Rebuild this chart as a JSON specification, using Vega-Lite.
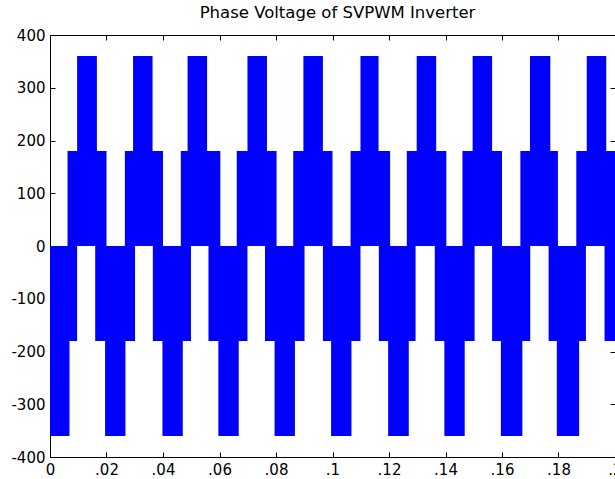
{
  "$schema": "https://vega.github.io/schema/vega-lite/v6.json",
  "width": 565,
  "height": 422,
  "autosize": {"type": "none"},
  "padding": {"left": 50, "top": 35, "right": 0, "bottom": 22},
  "background": "white",
  "config": {
    "view": {"stroke": null},
    "axis": {
      "grid": false,
      "domainColor": "black",
      "domainWidth": 1,
      "tickColor": "black",
      "tickSize": -5,
      "labelColor": "black",
      "labelFont": "DejaVu Sans",
      "labelFontSize": 15,
      "title": null
    }
  },
  "title": {
    "text": "Phase Voltage of SVPWM Inverter",
    "anchor": "middle",
    "frame": "group",
    "offset": 14,
    "dy": 20,
    "dx": 5,
    "baseline": "alphabetic",
    "font": "DejaVu Sans",
    "fontSize": 16.5,
    "fontWeight": "normal",
    "color": "black"
  },
  "data": {
    "values": [
      {"t": 0, "v": 0, "s": "upper"},
      {"t": 0.0062, "v": 180, "s": "upper"},
      {"t": 0.0096, "v": 360, "s": "upper"},
      {"t": 0.0166, "v": 180, "s": "upper"},
      {"t": 0.0200, "v": 0, "s": "upper"},
      {"t": 0.0265, "v": 180, "s": "upper"},
      {"t": 0.0294, "v": 360, "s": "upper"},
      {"t": 0.0363, "v": 180, "s": "upper"},
      {"t": 0.0400, "v": 0, "s": "upper"},
      {"t": 0.0463, "v": 180, "s": "upper"},
      {"t": 0.0487, "v": 360, "s": "upper"},
      {"t": 0.0556, "v": 180, "s": "upper"},
      {"t": 0.0603, "v": 0, "s": "upper"},
      {"t": 0.0661, "v": 180, "s": "upper"},
      {"t": 0.0699, "v": 360, "s": "upper"},
      {"t": 0.0768, "v": 180, "s": "upper"},
      {"t": 0.0802, "v": 0, "s": "upper"},
      {"t": 0.0861, "v": 180, "s": "upper"},
      {"t": 0.0897, "v": 360, "s": "upper"},
      {"t": 0.0966, "v": 180, "s": "upper"},
      {"t": 0.1000, "v": 0, "s": "upper"},
      {"t": 0.1064, "v": 180, "s": "upper"},
      {"t": 0.1099, "v": 360, "s": "upper"},
      {"t": 0.1163, "v": 180, "s": "upper"},
      {"t": 0.1204, "v": 0, "s": "upper"},
      {"t": 0.1263, "v": 180, "s": "upper"},
      {"t": 0.1298, "v": 360, "s": "upper"},
      {"t": 0.1367, "v": 180, "s": "upper"},
      {"t": 0.1403, "v": 0, "s": "upper"},
      {"t": 0.1460, "v": 180, "s": "upper"},
      {"t": 0.1496, "v": 360, "s": "upper"},
      {"t": 0.1565, "v": 180, "s": "upper"},
      {"t": 0.1600, "v": 0, "s": "upper"},
      {"t": 0.1665, "v": 180, "s": "upper"},
      {"t": 0.1699, "v": 360, "s": "upper"},
      {"t": 0.1771, "v": 180, "s": "upper"},
      {"t": 0.1798, "v": 0, "s": "upper"},
      {"t": 0.1863, "v": 180, "s": "upper"},
      {"t": 0.1900, "v": 360, "s": "upper"},
      {"t": 0.1969, "v": 180, "s": "upper"},
      {"t": 0.2000, "v": 180, "s": "upper"},
      {"t": 0, "v": -360, "s": "lower"},
      {"t": 0.0069, "v": -180, "s": "lower"},
      {"t": 0.0096, "v": 0, "s": "lower"},
      {"t": 0.0160, "v": -180, "s": "lower"},
      {"t": 0.0195, "v": -360, "s": "lower"},
      {"t": 0.0267, "v": -180, "s": "lower"},
      {"t": 0.0301, "v": 0, "s": "lower"},
      {"t": 0.0364, "v": -180, "s": "lower"},
      {"t": 0.0398, "v": -360, "s": "lower"},
      {"t": 0.0470, "v": -180, "s": "lower"},
      {"t": 0.0499, "v": 0, "s": "lower"},
      {"t": 0.0561, "v": -180, "s": "lower"},
      {"t": 0.0596, "v": -360, "s": "lower"},
      {"t": 0.0668, "v": -180, "s": "lower"},
      {"t": 0.0699, "v": 0, "s": "lower"},
      {"t": 0.0761, "v": -180, "s": "lower"},
      {"t": 0.0795, "v": -360, "s": "lower"},
      {"t": 0.0867, "v": -180, "s": "lower"},
      {"t": 0.0901, "v": 0, "s": "lower"},
      {"t": 0.0966, "v": -180, "s": "lower"},
      {"t": 0.0995, "v": -360, "s": "lower"},
      {"t": 0.1067, "v": -180, "s": "lower"},
      {"t": 0.1099, "v": 0, "s": "lower"},
      {"t": 0.1164, "v": -180, "s": "lower"},
      {"t": 0.1197, "v": -360, "s": "lower"},
      {"t": 0.1270, "v": -180, "s": "lower"},
      {"t": 0.1294, "v": 0, "s": "lower"},
      {"t": 0.1362, "v": -180, "s": "lower"},
      {"t": 0.1396, "v": -360, "s": "lower"},
      {"t": 0.1468, "v": -180, "s": "lower"},
      {"t": 0.1503, "v": 0, "s": "lower"},
      {"t": 0.1565, "v": -180, "s": "lower"},
      {"t": 0.1596, "v": -360, "s": "lower"},
      {"t": 0.1672, "v": -180, "s": "lower"},
      {"t": 0.1700, "v": 0, "s": "lower"},
      {"t": 0.1765, "v": -180, "s": "lower"},
      {"t": 0.1794, "v": -360, "s": "lower"},
      {"t": 0.1873, "v": -180, "s": "lower"},
      {"t": 0.1897, "v": 0, "s": "lower"},
      {"t": 0.1963, "v": -180, "s": "lower"},
      {"t": 0.2000, "v": -180, "s": "lower"}
    ]
  },
  "layer": [
    {
      "mark": {"type": "area", "interpolate": "step-after", "color": "#0000ff", "clip": true},
      "encoding": {
        "x": {
          "field": "t", "type": "quantitative",
          "scale": {"domain": [0, 0.2], "nice": false, "zero": false},
          "axis": {
            "orient": "bottom",
            "values": [0, 0.02, 0.04, 0.06, 0.08, 0.1, 0.12, 0.14, 0.16, 0.18, 0.2],
            "labelExpr": "datum.value == 0 ? '0' : slice(format(datum.value, '.2~f'), 1)",
            "labelPadding": 10,
            "labelFlush": false,
            "labelOverlap": false
          }
        },
        "y": {
          "field": "v", "type": "quantitative",
          "scale": {"domain": [-400, 400], "nice": false},
          "axis": {
            "orient": "left",
            "values": [-400, -300, -200, -100, 0, 100, 200, 300, 400],
            "labelExpr": "datum.value < 0 ? '-' + abs(datum.value) : '' + datum.value",
            "labelPadding": 10,
            "labelFlush": false,
            "labelOverlap": false
          }
        },
        "y2": {"datum": 0},
        "detail": {"field": "s"}
      }
    },
    {
      "mark": {"type": "area", "interpolate": "step-after", "opacity": 0},
      "encoding": {
        "x": {
          "field": "t", "type": "quantitative",
          "axis": {
            "orient": "top",
            "values": [0, 0.02, 0.04, 0.06, 0.08, 0.1, 0.12, 0.14, 0.16, 0.18, 0.2],
            "labels": false
          }
        },
        "y": {
          "field": "v", "type": "quantitative",
          "axis": {
            "orient": "right",
            "values": [-400, -300, -200, -100, 0, 100, 200, 300, 400],
            "labels": false
          }
        },
        "y2": {"datum": 0},
        "detail": {"field": "s"}
      }
    }
  ],
  "resolve": {"axis": {"x": "independent", "y": "independent"}}
}
